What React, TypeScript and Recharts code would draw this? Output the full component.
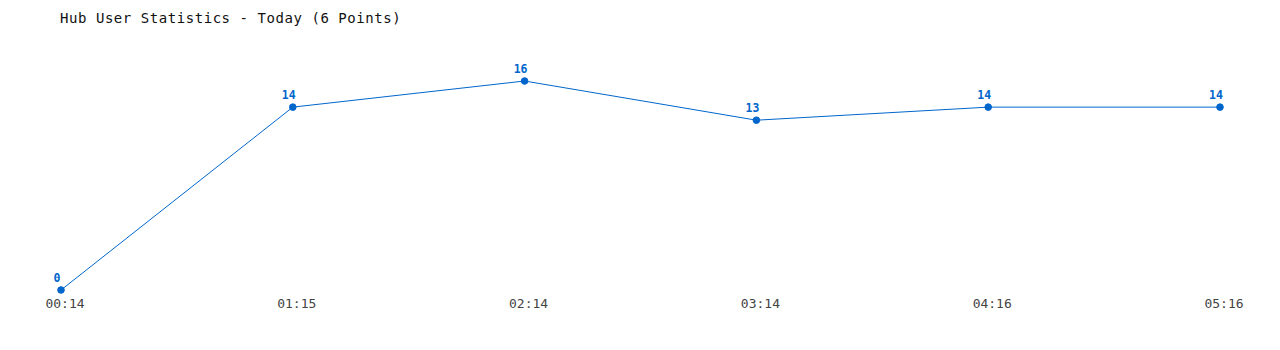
import React from 'react';
import { LineChart, Line, XAxis, YAxis, LabelList } from 'recharts';

const times = ['00:14', '01:15', '02:14', '03:14', '04:16', '05:16'];
const users = [0, 14, 16, 13, 14, 14];

const data = times.map((t, i) => ({ time: t, users: users[i] }));

const MONO = '"DejaVu Sans Mono", monospace';
const BLUE = '#0066cc';

export default function App() {
  return (
    <div style={{ position: 'relative', width: 1264, height: 334, background: '#fff' }}>
      <div
        style={{
          position: 'absolute',
          left: 52,
          top: 2,
          fontFamily: MONO,
          fontSize: 14,
          letterSpacing: 0.55,
          color: '#111',
          whiteSpace: 'nowrap',
        }}
      >
        Hub User Statistics - Today (6 Points)
      </div>
      <LineChart width={1264} height={334} data={data} margin={{ top: 73, right: 52, bottom: 22, left: 53 }}>
        <XAxis
          dataKey="time"
          axisLine={false}
          tickLine={false}
          interval={0}
          dx={4}
          dy={1}
          tick={{ fontFamily: MONO, fontSize: 13, fill: '#444' }}
        />
        <YAxis hide domain={[0, 16]} />
        <Line
          type="linear"
          dataKey="users"
          stroke={BLUE}
          strokeWidth={1}
          dot={{ r: 3.3, fill: BLUE, stroke: BLUE, strokeWidth: 1 }}
          isAnimationActive={false}
        >
          <LabelList
            dataKey="users"
            position="top"
            offset={8}
            dx={-4}
            style={{ fontFamily: MONO, fontSize: 11.5, fontWeight: 'bold', fill: BLUE }}
          />
        </Line>
      </LineChart>
    </div>
  );
}
